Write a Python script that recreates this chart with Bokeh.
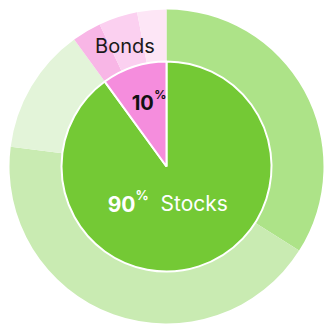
import numpy as np
from bokeh.plotting import figure
from bokeh.models import Range1d, ColumnDataSource
from bokeh.core.properties import value
from bokeh.embed import file_html
from bokeh.resources import INLINE

# ---- data ----
inner_labels = ["Stocks", "Bonds"]
inner_values = [90, 10]
inner_colors = ["#74c935", "#f58ddd"]

outer_groups = ["Stocks", "Stocks", "Stocks", "Bonds", "Bonds", "Bonds"]
outer_values = [34, 43, 13, 3, 4, 3]
outer_colors = ["#ade388", "#c9ebb2", "#e3f4d9", "#f8b6e6", "#fbd0f0", "#fde6f6"]

W, H = 334, 331
CX, CY = 166, 165
R_IN, R_OUT = 105, 157
FONT = "Inter"


def angles(vals):
    v = np.array(vals, dtype=float)
    frac = v / v.sum()
    cum = np.concatenate([[0], np.cumsum(frac)])
    start = np.pi / 2 - 2 * np.pi * cum[:-1]
    end = np.pi / 2 - 2 * np.pi * cum[1:]
    mid = (cum[:-1] + cum[1:]) / 2
    return start, end, mid


def polar(frac, r):
    a = np.pi / 2 - 2 * np.pi * frac
    return CX + r * np.cos(a), CY + r * np.sin(a)


p = figure(width=W, height=H, x_range=Range1d(0, W), y_range=Range1d(0, H),
           output_backend="svg", toolbar_location=None, min_border=0)
p.axis.visible = False
p.grid.visible = False
p.outline_line_color = None
p.background_fill_color = "white"
p.border_fill_color = "white"

os_, oe_, om_ = angles(outer_values)
outer_src = ColumnDataSource(dict(start=os_, end=oe_, color=outer_colors, group=outer_groups))
p.annular_wedge(x=CX, y=CY, inner_radius=R_IN, outer_radius=R_OUT,
                start_angle="start", end_angle="end", direction="clock",
                fill_color="color", line_color=None, source=outer_src)

is_, ie_, im_ = angles(inner_values)
inner_src = ColumnDataSource(dict(start=is_, end=ie_, color=inner_colors, label=inner_labels))
p.wedge(x=CX, y=CY, radius=R_IN, start_angle="start", end_angle="end",
        direction="clock", fill_color="color", line_color="white", line_width=2,
        source=inner_src)

# Bonds group label in outer ring
bonds_idx = [i for i, g in enumerate(outer_groups) if g == "Bonds"]
ocum = np.concatenate([[0], np.cumsum(outer_values)]) / sum(outer_values)
bmid = (ocum[bonds_idx[0]] + ocum[bonds_idx[-1] + 1]) / 2
bx, by = polar(bmid, 128)
p.text(x=[bx - 2], y=[by - 1], text=[inner_labels[1]], text_align="center",
       text_baseline="middle", text_font=value(FONT), text_font_size="20px",
       text_color="#1a1a1a")

# Bonds percentage in inner pie
ix, iy = polar(im_[1], 75)
p.text(x=[ix + 10.5], y=[iy - 7], text=[str(inner_values[1])], text_align="right",
       text_baseline="alphabetic", text_font=value(FONT), text_font_size="20px",
       text_font_style="bold", text_color="#111111")
p.text(x=[ix + 11], y=[iy + 0.5], text=["%"], text_align="left",
       text_baseline="alphabetic", text_font=value(FONT), text_font_size="12px",
       text_font_style="bold", text_color="#111111")

# Stocks label
p.text(x=[CX - 31], y=[CY - 37], text=[str(inner_values[0])], text_align="right",
       text_baseline="alphabetic", text_font=value(FONT), text_font_size="21px",
       text_font_style="bold", text_color="white")
p.text(x=[CX - 31], y=[CY - 28], text=["%"], text_align="left",
       text_baseline="alphabetic", text_font=value(FONT), text_font_size="13px",
       text_font_style="bold", text_color="white")
p.text(x=[CX - 6], y=[CY - 37], text=[inner_labels[0]], text_align="left",
       text_baseline="alphabetic", text_font=value(FONT), text_font_size="21px",
       text_color="white")

open("out.html", "w").write(file_html(p, INLINE))
